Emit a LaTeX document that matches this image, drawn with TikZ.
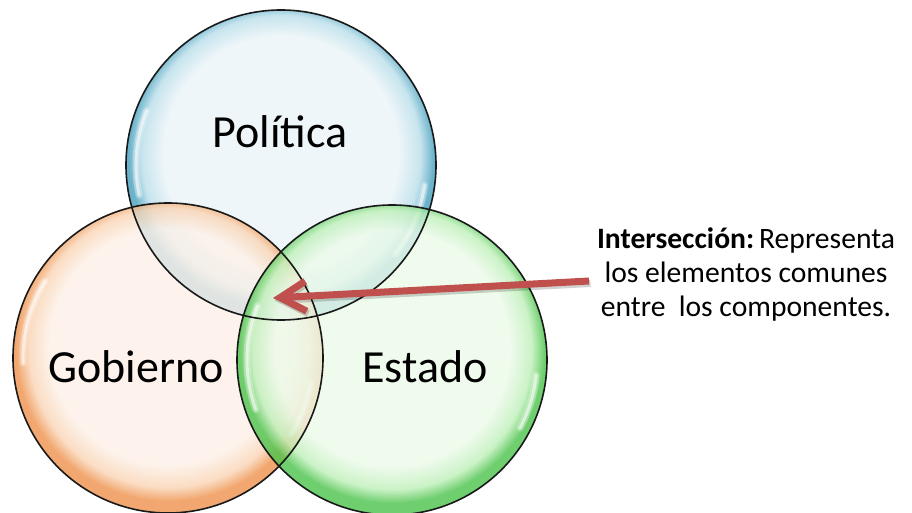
\documentclass[tikz,border=0pt]{standalone}
\usepackage{fontspec}
\setmainfont{Carlito}
\usetikzlibrary{arrows.meta}
\definecolor{polin}{RGB}{234,244,248}
\definecolor{polmid}{RGB}{185,222,234}
\definecolor{polrim}{RGB}{70,160,190}
\definecolor{gobin}{RGB}{253,241,232}
\definecolor{gobmid}{RGB}{250,212,180}
\definecolor{gobrim}{RGB}{238,145,75}
\definecolor{estin}{RGB}{236,250,233}
\definecolor{estmid}{RGB}{190,240,185}
\definecolor{estrim}{RGB}{75,195,75}
\definecolor{arrowred}{RGB}{192,80,77}
\pgfdeclareradialshading{polshade}{\pgfpoint{0bp}{3bp}}{color(0bp)=(polin); color(19bp)=(polin); color(22.5bp)=(polmid); color(24.6bp)=(polrim); color(25bp)=(polrim); color(50bp)=(polrim)}
\pgfdeclareradialshading{gobshade}{\pgfpoint{0bp}{3bp}}{color(0bp)=(gobin); color(19bp)=(gobin); color(22.5bp)=(gobmid); color(24.6bp)=(gobrim); color(25bp)=(gobrim); color(50bp)=(gobrim)}
\pgfdeclareradialshading{estshade}{\pgfpoint{0bp}{3bp}}{color(0bp)=(estin); color(19bp)=(estin); color(22.5bp)=(estmid); color(24.6bp)=(estrim); color(25bp)=(estrim); color(50bp)=(estrim)}
\tikzset{
  bubble/.style={circle, inner sep=0pt, minimum size=310pt, fill opacity=0.8, shade},
  outline/.style={line width=1.6pt, draw=black!90},
  shine/.style={white, line width=7pt, opacity=0.3, line cap=round},
  shinecore/.style={white, line width=3pt, opacity=0.55, line cap=round},
  biglabel/.style={font=\fontsize{46}{50}\selectfont, anchor=base, inner sep=0pt},
  notetext/.style={font=\fontsize{29.6}{34}\selectfont, align=center, inner sep=0pt},
  redarrow/.style={arrowred, line width=7pt, -{Straight Barb[length=26pt,width=30pt,line width=7pt]}},
  arrowshadow/.style={black, opacity=0.18, line width=7pt, -{Straight Barb[length=26pt,width=30pt,line width=7pt]}}
}
\begin{document}
\begin{tikzpicture}[x=1pt,y=1pt]
\useasboundingbox (0,0) rectangle (912,512);
\fill[white] (0,0) rectangle (912,512);
% Politica
\node[bubble, shading=polshade] (pol) at (281,347) {};
\foreach \s in {shine,shinecore}{
\draw[\s] (pol.center) ++(158:145) arc[start angle=158, end angle=192, radius=145];
\draw[\s] (pol.center) ++(-38:145) arc[start angle=-38, end angle=-8, radius=145];}
% Gobierno
\node[bubble, shading=gobshade] (gob) at (168,154) {};
\foreach \s in {shine,shinecore}{
\draw[\s] (gob.center) ++(148:145) arc[start angle=148, end angle=182, radius=145];
\draw[\s] (gob.center) ++(-32:145) arc[start angle=-32, end angle=-10, radius=145];}
% Estado
\node[bubble, shading=estshade] (est) at (392,152) {};
\foreach \s in {shine,shinecore}{
\draw[\s] (est.center) ++(158:145) arc[start angle=158, end angle=200, radius=145];
\draw[\s] (est.center) ++(-28:145) arc[start angle=-28, end angle=-6, radius=145];}
% outlines
\draw[outline] (pol.center) circle[radius=155];
\draw[outline] (gob.center) circle[radius=155];
\draw[outline] (est.center) circle[radius=155];
% labels
\node[biglabel] (tpol) at (280,364) {Política};
\node[biglabel] (tgob) at (136,130) {Gobierno};
\node[biglabel] (test) at (425,130) {Estado};
% note
\node[notetext] (note) at (746,238) {\textbf{Intersección:}\,Representa\\los elementos comunes\\entre~ los componentes.};
\coordinate (tail) at (589,231);
\coordinate (tip) at (273,214);
\coordinate (stail) at (590.5,228.5);
\coordinate (stip) at (274.5,211.5);
\draw[arrowshadow] (stail) -- (stip);
\draw[redarrow] (tail) -- (tip);
\end{tikzpicture}
\end{document}
